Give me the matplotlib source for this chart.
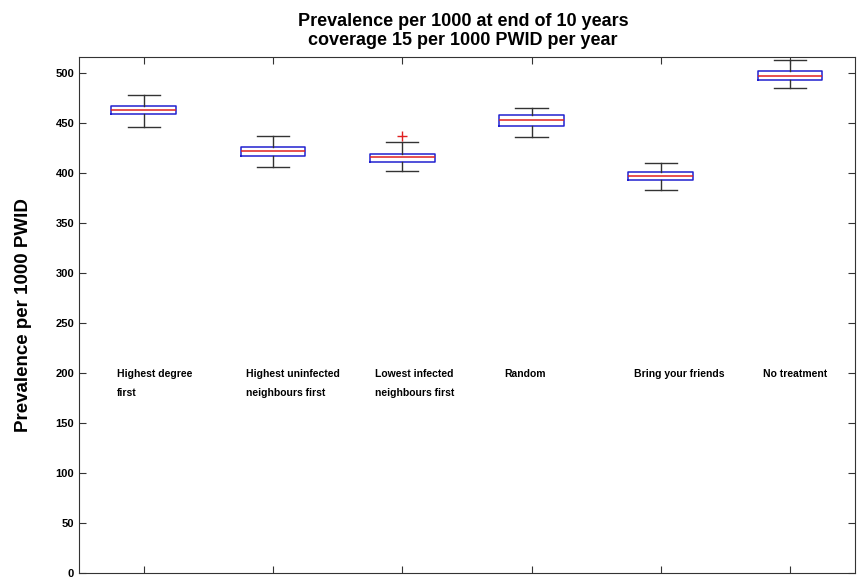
import matplotlib
matplotlib.use("Agg")
import matplotlib.pyplot as plt

plt.rcParams['font.family'] = ['Liberation Sans', 'DejaVu Sans']

# box statistics
labels = ["Highest degree\nfirst", "Highest uninfected\nneighbours first",
          "Lowest infected\nneighbours first", "Random",
          "Bring your friends", "No treatment"]
medians = [463.5, 422, 416, 453.5, 397, 497.5]
q1 = [459, 417.5, 411.5, 447.5, 393, 493.5]
q3 = [467.5, 426.5, 419, 458, 401, 502]
whislo = [446, 406, 402.5, 436.5, 383, 485]
whishi = [478.5, 437.5, 431.5, 465.5, 410, 513.5]
fliers = [[], [], [437], [], [], []]

stats = []
for i in range(len(labels)):
    stats.append(dict(med=medians[i], q1=q1[i], q3=q3[i],
                      whislo=whislo[i], whishi=whishi[i], fliers=fliers[i]))

fig = plt.figure(figsize=(8.59, 5.81), dpi=100)
ax = fig.add_axes([0.092, 0.0138, 0.903, 0.888])

ax.bxp(stats, positions=range(1, 7), widths=0.5, showfliers=True,
       boxprops=dict(color='#2020d0', linewidth=1.1),
       medianprops=dict(color='#e02020', linewidth=1.1),
       whiskerprops=dict(color='#333333', linewidth=1.0),
       capprops=dict(color='#333333', linewidth=1.0),
       capwidths=0.25,
       flierprops=dict(marker='+', markeredgecolor='#e02020', markersize=7))

for i, lab in enumerate(labels):
    ax.text(i + 1 - 0.21, 204, lab, ha='left', va='top', fontsize=7.5,
            fontweight='bold', linespacing=2.1)

ax.set_xlim(0.5, 6.5)
ax.set_ylim(0, 516)
ax.set_xticks(range(1, 7))
ax.set_xticklabels([])
ax.set_yticks(range(0, 501, 50))
ax.tick_params(direction='in', top=True, right=True, length=5, width=0.8,
               labelsize=8, colors='#333333', labelcolor='black')
for lbl in ax.get_yticklabels():
    lbl.set_fontweight('bold')
for s in ax.spines.values():
    s.set_color('#333333')
    s.set_linewidth(0.8)

ax.set_ylabel("Prevalence per 1000 PWID", fontsize=13.5, fontweight='bold', labelpad=17)
ax.set_title("Prevalence per 1000 at end of 10 years\ncoverage 15 per 1000 PWID per year",
             fontsize=13, fontweight='bold', pad=9, linespacing=1.12, x=0.495)

fig.savefig("out.png", dpi=100)
